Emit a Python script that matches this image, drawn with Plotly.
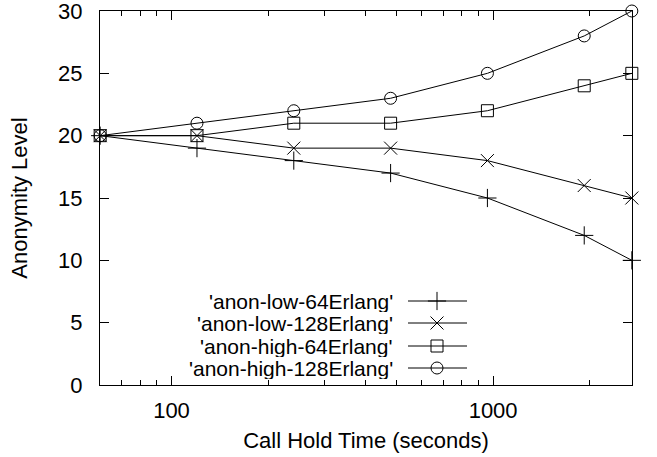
import math
import plotly.graph_objects as go

# ---- data ----
hold_time = [60, 120, 240, 480, 960, 1920, 2700]
series_names = ["'anon-low-64Erlang'", "'anon-low-128Erlang'",
                "'anon-high-64Erlang'", "'anon-high-128Erlang'"]
low_64 = [20, 19, 18, 17, 15, 12, 10]
low_128 = [20, 20, 19, 19, 18, 16, 15]
high_64 = [20, 20, 21, 21, 22, 24, 25]
high_128 = [20, 21, 22, 23, 25, 28, 30]
y_ticks = [0, 5, 10, 15, 20, 25, 30]
x_ticks = [100, 1000]
x_minor = [70, 80, 90, 200, 300, 400, 500, 600, 700, 800, 900, 2000]

series = [low_64, low_128, high_64, high_128]
symbols = ["cross-thin-open", "x-thin-open", "square-open", "circle-open"]
sizes = [13, 13, 12, 12]

FONT = "Liberation Sans, Arial, sans-serif"
W, H = 657, 457
L, R, T, B = 100, 25, 11, 72
px_left, px_right = L, W - R
px_top, px_bot = T, H - B

xr = [math.log10(hold_time[0]) - 0.0005, math.log10(hold_time[-1]) + 0.0005]
yr = [0, 30]


def px_to_x(px):
    f = (px - px_left) / (px_right - px_left)
    return 10 ** (xr[0] + f * (xr[1] - xr[0]))


def px_to_y(py):
    f = (px_bot - py) / (px_bot - px_top)
    return yr[0] + f * (yr[1] - yr[0])


fig = go.Figure()
# invisible trace carrying the top / right frame axes
fig.add_trace(go.Scatter(x=[hold_time[0]], y=[None], xaxis="x2", yaxis="y2",
                         mode="markers", showlegend=False, hoverinfo="skip"))

for name, vals, sym, sz in zip(series_names, series, symbols, sizes):
    fig.add_trace(go.Scatter(
        x=hold_time, y=vals, mode="lines+markers", name=name,
        line=dict(color="black", width=1),
        marker=dict(symbol=sym, size=sz, color="black",
                    line=dict(color="black", width=1)),
        cliponaxis=False, showlegend=False))

# ---- hand-made gnuplot-style key (text on the left, sample on the right) ----
key_rows = [301, 323, 346, 368]
key_text_right = 394
key_line = [408, 467]
key_mark = 437
annotations = []
for name, sym, sz, ry in zip(series_names, symbols, sizes, key_rows):
    fig.add_trace(go.Scatter(
        x=[px_to_x(key_line[0]), px_to_x(key_line[1])],
        y=[px_to_y(ry), px_to_y(ry)], mode="lines",
        line=dict(color="black", width=1), showlegend=False, hoverinfo="skip"))
    fig.add_trace(go.Scatter(
        x=[px_to_x(key_mark)], y=[px_to_y(ry)], mode="markers",
        marker=dict(symbol=sym, size=sz, color="black",
                    line=dict(color="black", width=1)),
        showlegend=False, hoverinfo="skip"))
    annotations.append(dict(
        x=(key_text_right - px_left) / (px_right - px_left),
        y=(px_bot - ry) / (px_bot - px_top),
        xref="paper", yref="paper", xanchor="right", yanchor="middle",
        height=21, borderpad=0,
        text=name, showarrow=False, font=dict(family=FONT, size=21, color="black")))

tick_common = dict(ticks="inside", ticklen=9, tickcolor="black", tickwidth=1,
                   showline=True, linecolor="black", linewidth=1,
                   showgrid=False, zeroline=False, automargin=False)
minor_x = dict(tickvals=x_minor, ticks="inside", ticklen=5,
               tickcolor="black", tickwidth=1, showgrid=False)

fig.update_layout(
    width=W, height=H,
    margin=dict(l=L, r=R, t=T, b=B, autoexpand=False),
    paper_bgcolor="white", plot_bgcolor="white",
    font=dict(family=FONT, size=22, color="black"),
    showlegend=False,
    annotations=annotations,
    xaxis=dict(
        type="log", range=xr,
        tickvals=x_ticks, ticktext=[str(v) for v in x_ticks],
        minor=minor_x, ticklabelstandoff=6,
        title=dict(text="Call Hold Time (seconds)", standoff=10,
                   font=dict(family=FONT, size=22)),
        tickfont=dict(family=FONT, size=22), **tick_common),
    xaxis2=dict(
        type="log", range=xr, overlaying="x", side="top", anchor="y2",
        tickvals=x_ticks, showticklabels=False, minor=minor_x, **tick_common),
    yaxis=dict(
        range=yr, tickvals=y_ticks, ticklabelstandoff=12,
        ticklabeloverflow="allow",
        title=dict(text="Anonymity Level", standoff=24,
                   font=dict(family=FONT, size=22)),
        tickfont=dict(family=FONT, size=22), **tick_common),
    yaxis2=dict(
        range=yr, overlaying="y", side="right", anchor="x2",
        tickvals=y_ticks, showticklabels=False, **tick_common),
)

fig.write_html("out.html")
